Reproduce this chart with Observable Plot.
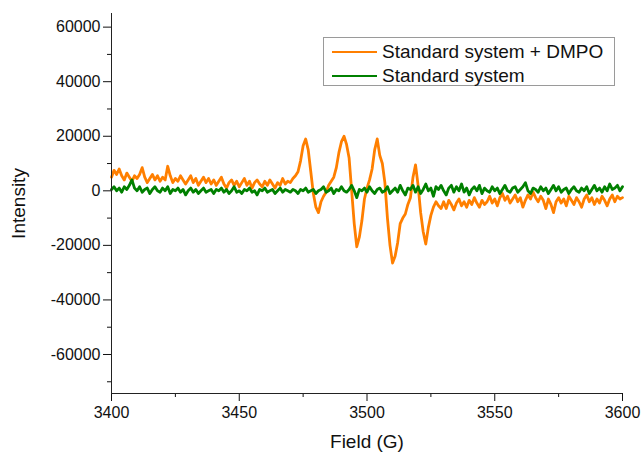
<!DOCTYPE html>
<html><head><meta charset="utf-8">
<script src="https://cdn.jsdelivr.net/npm/d3@7"></script>
<script src="https://cdn.jsdelivr.net/npm/@observablehq/plot@0.6"></script>
<style>
body{margin:0;background:#fff;}
#wrap{position:relative;width:642px;height:453px;font-family:"Liberation Sans",Arial,sans-serif;}
#legend{position:absolute;left:323px;top:37px;width:292px;height:49px;border:1px solid #9a9a9a;background:#fff;box-sizing:border-box;}
.item{position:absolute;left:0;height:24px;}
.sw{position:absolute;left:8px;width:45px;height:0;border-top:2.5px solid;}
.lb{position:absolute;left:58px;font-size:19px;color:#111;white-space:nowrap;line-height:19px;}
</style></head>
<body><div id="wrap"><div id="legend"></div></div>
<script>
const field = [
3400,3401,3402,3403,3404,3405,3406,3407,3408,3409,3410,3411,3412,3413,3414,3415,3416,3417,3418,3419,
3420,3421,3422,3423,3424,3425,3426,3427,3428,3429,3430,3431,3432,3433,3434,3435,3436,3437,3438,3439,
3440,3441,3442,3443,3444,3445,3446,3447,3448,3449,3450,3451,3452,3453,3454,3455,3456,3457,3458,3459,
3460,3461,3462,3463,3464,3465,3466,3467,3468,3469,3470,3471,3472,3473,3474,3475,3476,3477,3478,3479,
3480,3481,3482,3483,3484,3485,3486,3487,3488,3489,3490,3491,3492,3493,3494,3495,3496,3497,3498,3499,
3500,3501,3502,3503,3504,3505,3506,3507,3508,3509,3510,3511,3512,3513,3514,3515,3516,3517,3518,3519,
3520,3521,3522,3523,3524,3525,3526,3527,3528,3529,3530,3531,3532,3533,3534,3535,3536,3537,3538,3539,
3540,3541,3542,3543,3544,3545,3546,3547,3548,3549,3550,3551,3552,3553,3554,3555,3556,3557,3558,3559,
3560,3561,3562,3563,3564,3565,3566,3567,3568,3569,3570,3571,3572,3573,3574,3575,3576,3577,3578,3579,
3580,3581,3582,3583,3584,3585,3586,3587,3588,3589,3590,3591,3592,3593,3594,3595,3596,3597,3598,3599,
3600];
const dmpo = [
5000,7500,6000,8000,5500,4000,6500,5000,3500,5500,
4500,6000,8500,5000,3000,4500,6000,4000,5500,3500,
5000,4000,9000,5500,3000,4500,3500,5500,4000,2500,
4000,5500,3000,4500,2000,3500,5000,3000,4500,2500,
4000,2000,3500,5000,2500,1000,3000,4000,2000,3500,
1500,3000,4500,2000,3500,1000,3000,4000,2500,1500,
3500,2000,4000,2500,1000,3000,2000,4500,2500,3500,
3000,4500,5500,7000,11000,16500,19000,15000,7000,-1000,
-6000,-8000,-4000,-2000,-500,2000,3500,5000,8500,14000,
18000,20000,17000,12000,0,-12000,-20500,-17000,-11000,-3000,
1000,4000,8000,15000,19000,13000,10000,3000,-10000,-20000,
-26500,-24000,-19000,-12000,-10000,-8500,-5000,-2500,5000,9500,
2000,-8000,-15000,-19500,-13500,-9000,-6000,-4000,-5500,-6500,
-4000,-6500,-3500,-5000,-7000,-4500,-3000,-5500,-4000,-6000,
-3500,-5000,-2500,-4500,-6000,-3500,-5000,-4000,-2000,-4500,
-3000,-5500,-2500,-1000,-3500,-2000,-4500,-3000,-1500,-4000,
-2500,-6000,-3500,-1500,-3000,-500,-2500,-4000,-2000,-3500,
-6500,-3000,-5000,-8000,-4000,-2500,-4500,-3000,-5500,-2000,
-3500,-5000,-2500,-4000,-6000,-3000,-1500,-4000,-2500,-5000,
-3000,-4500,-2000,-3500,-5500,-3000,-1500,-4000,-2000,-3000,
-2500];
const standard = [
500,1500,0,1000,-500,1500,500,2000,4000,1000,
0,1500,-500,500,1000,-1000,500,1500,0,-500,
1000,0,1500,-1000,500,0,1000,-500,500,-1500,
0,1000,-500,500,-1000,0,1000,-500,0,500,
-1000,500,0,1000,-500,500,-1000,0,1500,-500,
0,-1000,500,0,1000,-500,0,-1500,500,0,
1000,-500,0,500,-1000,0,1000,-500,500,0,
-500,500,0,-1000,500,0,1000,-500,0,500,
-1000,0,500,1500,-500,0,1000,-1000,500,0,
1500,0,-500,500,2000,0,-2500,500,0,1000,
-500,1500,0,-1000,500,1000,-500,0,1500,-1000,
0,1000,-500,2000,0,-1500,1000,500,2000,-500,
1500,-1000,500,2500,0,1000,-2000,1500,500,2000,
0,-1500,1000,2000,-500,1500,0,2500,-500,1000,
-1500,500,1500,0,2000,-1000,1000,0,-500,1500,
0,1000,-1000,500,2000,0,-500,1000,1500,-500,
500,1500,3000,0,-1000,1000,500,-500,1500,0,
1000,-1000,500,2000,0,1500,-500,500,1000,-1000,
500,1500,0,-500,1000,0,1500,-1000,500,2000,
0,1000,-500,1500,0,2500,500,1000,2000,0,
1500];
const seriesNames = ["Standard system + DMPO", "Standard system"];
const seriesColors = ["#FF7F00", "#008000"];
const xTicks = [3400, 3450, 3500, 3550, 3600];
const xMinor = [3425, 3475, 3525, 3575];
const yTicks = [-60000, -40000, -20000, 0, 20000, 40000, 60000];
const yMinor = [-70000, -50000, -30000, -10000, 10000, 30000, 50000];

const rows = field.map((f, i) => ({f, a: dmpo[i], b: standard[i]}));
const font = '"Liberation Sans", Arial, sans-serif';

const chart = Plot.plot({
  width: 642, height: 453,
  marginLeft: 111, marginRight: 20, marginTop: 13, marginBottom: 60,
  x: {domain: [3400, 3600]},
  y: {domain: [-74300, 65000]},
  style: {fontFamily: font, fontSize: "16px", color: "#111", background: "#fff"},
  marks: [
    Plot.line(rows, {x: "f", y: "a", stroke: seriesColors[0], strokeWidth: 2.8}),
    Plot.line(rows, {x: "f", y: "b", stroke: seriesColors[1], strokeWidth: 2.8}),
    Plot.axisX(xMinor, {tickSize: 4, tickFormat: () => "", label: null}),
    Plot.axisX(xTicks, {tickSize: 8, tickPadding: 5, fontSize: 16, tickFormat: d => String(d),
      label: "Field (G)", labelAnchor: "center", labelArrow: "none", labelOffset: 54}),
    Plot.axisY(yMinor, {tickSize: 4, tickFormat: () => "", label: null}),
    Plot.axisY(yTicks, {tickSize: 8, tickPadding: 3, fontSize: 16, tickFormat: d => String(d),
      label: "Intensity", labelAnchor: "center", labelArrow: "none", labelOffset: 100}),
    Plot.ruleX([3400], {stroke: "#222"}),
    Plot.ruleY([-74300], {stroke: "#222"})
  ]
});
d3.select(chart).selectAll('[aria-label="x-axis label"] text, [aria-label="y-axis label"] text')
  .attr("font-size", 19);
document.getElementById("wrap").prepend(chart);

const legend = document.getElementById("legend");
seriesNames.forEach((name, i) => {
  const it = document.createElement("div");
  it.className = "item";
  it.style.top = (3 + i * 23.5) + "px";
  it.innerHTML = `<div class="sw" style="top:10px;border-color:${seriesColors[i]}"></div><div class="lb" style="top:1px">${name}</div>`;
  legend.appendChild(it);
});
</script>
</body></html>
